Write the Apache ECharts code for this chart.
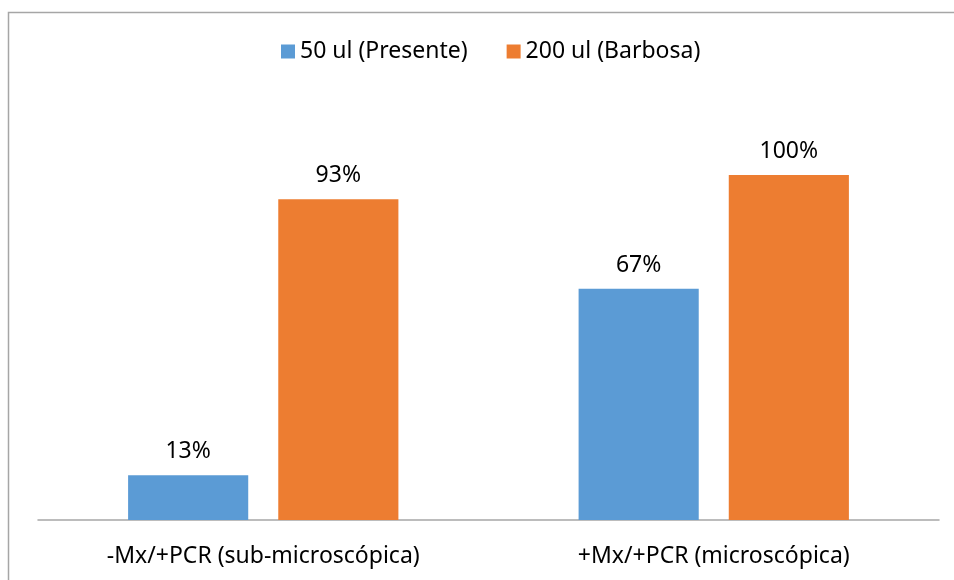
<!DOCTYPE html>
<html>
<head>
<meta charset="utf-8">
<script src="https://cdn.jsdelivr.net/npm/echarts@6/dist/echarts.min.js"></script>
<style>
  html, body { margin: 0; padding: 0; background: #fff; }
  #chart { width: 954px; height: 580px; }
</style>
</head>
<body>
<div id="chart"></div>
<script>
// Categories and series values (percent)
const categories = ['-Mx/+PCR (sub-microscópica)', '+Mx/+PCR (microscópica)'];
const seriesNames = ['50 ul (Presente)', '200 ul (Barbosa)'];
const presente = [13, 67];
const barbosa = [93, 100];

const FONT = '"Noto Sans", "Open Sans", sans-serif';
const chart = echarts.init(document.getElementById('chart'), null, { renderer: 'canvas' });

const labelStyle = {
  show: true,
  position: 'top',
  distance: 12,
  formatter: p => p.value + '%',
  color: '#000',
  fontFamily: FONT,
  fontSize: 23
};

chart.setOption({
  animation: false,
  backgroundColor: '#fff',
  graphic: [{
    type: 'rect',
    shape: { x: 8.5, y: 12.5, width: 1000, height: 700 },
    style: { fill: 'none', stroke: '#a6a6a6', lineWidth: 1.5 },
    silent: true
  }],
  legend: {
    top: 35,
    left: 276,
    itemWidth: 14,
    itemHeight: 14,
    itemGap: 39,
    icon: 'rect',
    textStyle: { fontFamily: FONT, fontSize: 23, color: '#000' },
    data: seriesNames
  },
  grid: { left: 38, right: 15, top: 106, bottom: 60, containLabel: false },
  xAxis: {
    type: 'category',
    data: categories,
    axisLine: { lineStyle: { color: '#a6a6a6', width: 1.5 } },
    axisTick: { show: false },
    axisLabel: { color: '#000', fontFamily: FONT, fontSize: 23, margin: 25 }
  },
  yAxis: {
    type: 'value',
    min: 0,
    max: 120,
    show: false,
    splitLine: { show: false }
  },
  series: [
    {
      name: seriesNames[0],
      type: 'bar',
      data: presente,
      itemStyle: { color: '#5b9bd5' },
      barGap: '25%',
      barCategoryGap: '40%',
      label: labelStyle
    },
    {
      name: seriesNames[1],
      type: 'bar',
      data: barbosa,
      itemStyle: { color: '#ed7d31' },
      label: labelStyle
    }
  ]
});
</script>
</body>
</html>
